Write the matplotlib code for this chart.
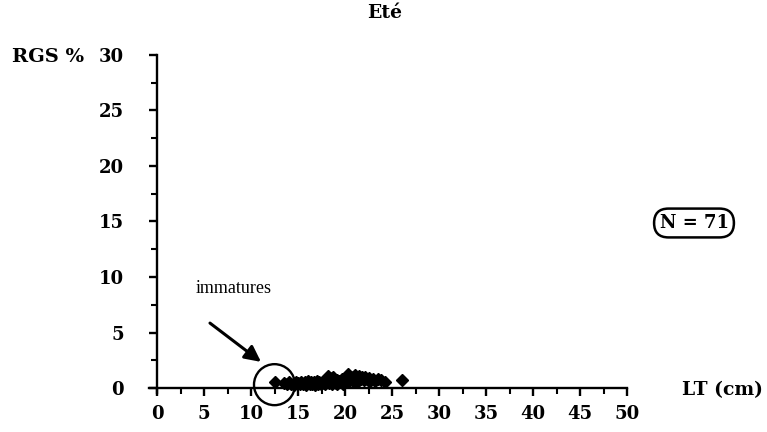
import matplotlib
matplotlib.use("Agg")
import matplotlib.pyplot as plt
from matplotlib.patches import Ellipse

# summer sample: total length (cm) vs gonado-somatic ratio (%)
lt = [12.6, 13.5, 13.8, 14.0, 14.3, 14.6, 14.8, 15.0, 15.2, 15.3,
      15.5, 15.7, 15.8, 16.0, 16.1, 16.3, 16.4, 16.5, 16.7, 16.8,
      16.9, 17.0, 17.1, 17.2, 17.4, 17.5, 17.6, 17.8, 17.9, 18.0,
      18.1, 18.2, 18.3, 18.4, 18.5, 18.6, 18.7, 18.8, 19.0, 19.1,
      19.2, 19.4, 19.5, 19.7, 19.8, 20.0, 20.2, 20.3, 20.5, 20.6,
      20.8, 21.0, 21.1, 21.2, 21.4, 21.5, 21.7, 21.8, 22.0, 22.1,
      22.3, 22.5, 22.6, 22.8, 23.0, 23.2, 23.5, 23.8, 24.3, 26.1,
      21.3]
rgs = [0.55, 0.45, 0.35, 0.50, 0.40, 0.30, 0.55, 0.45, 0.35, 0.50,
       0.40, 0.55, 0.30, 0.45, 0.60, 0.35, 0.50, 0.40, 0.55, 0.30,
       0.45, 0.60, 0.40, 0.50, 0.35, 0.55, 0.45, 0.60, 0.40, 0.70,
       0.50, 1.10, 0.45, 0.90, 0.60, 0.40, 1.00, 0.55, 0.45, 0.70,
       0.35, 0.60, 0.50, 0.80, 0.40, 0.65, 0.55, 1.25, 0.70, 1.00,
       0.60, 0.90, 1.15, 0.75, 0.60, 1.10, 0.85, 0.95, 0.70, 1.00,
       0.80, 0.65, 0.90, 0.75, 0.85, 0.60, 0.80, 0.70, 0.55, 0.70,
       0.50]

x_ticks = [0, 5, 10, 15, 20, 25, 30, 35, 40, 45, 50]
y_ticks = [0, 5, 10, 15, 20, 25, 30]
n_label = "N = 71"

plt.rcParams['font.family'] = ['Liberation Serif', 'DejaVu Serif']
bold_font = 'DejaVu Serif'

fig = plt.figure(figsize=(7.67, 4.32), dpi=100)
# y axis at x=157px, x axis at y=388px
x0, x1 = -0.9, 50
y0, y1 = -0.45, 30
px_x = 9.4
px_y = 11.1
left = (157 + x0 * px_x) / 767
width = (627 - (157 + x0 * px_x)) / 767
bottom = (432 - 388 + y0 * px_y) / 432
height = (388 - 55 - y0 * px_y) / 432
ax = fig.add_axes([left, bottom, width, height])
ax.set_xlim(x0, x1)
ax.set_ylim(y0, y1)

ax.spines['left'].set_position(('data', 0))
ax.spines['bottom'].set_position(('data', 0))
ax.spines['right'].set_visible(False)
ax.spines['top'].set_visible(False)
for s in ['left', 'bottom']:
    ax.spines[s].set_linewidth(1.7)

ax.set_xticks(x_ticks)
ax.set_yticks(y_ticks)
ax.set_xticks([v + 2.5 for v in x_ticks[:-1]], minor=True)
ax.set_yticks([v + 2.5 for v in y_ticks[:-1]], minor=True)
ax.tick_params(axis='both', which='major', direction='out', length=6, width=1.7,
               labelsize=13)
ax.tick_params(axis='both', which='minor', direction='out', length=4, width=1.5)
ax.tick_params(axis='x', pad=6)
ax.tick_params(axis='y', pad=18)
for lab in ax.get_xticklabels() + ax.get_yticklabels():
    lab.set_fontweight('bold')
    lab.set_family(bold_font)

ax.plot(lt, rgs, linestyle='none', marker='D', markersize=6.5, color='black',
        clip_on=False)

# circle around the immature fish
ax.add_patch(Ellipse((12.5, 0.3), 41 / px_x, 41 / px_y, fill=False,
                     edgecolor='black', linewidth=1.7, clip_on=False))
ax.annotate('', xy=(11.3, 2.2), xytext=(5.4, 6.0),
            arrowprops=dict(arrowstyle='-|>', color='black', lw=2.2,
                            mutation_scale=24))
ax.text(8.2, 9.0, 'immatures', fontsize=13, ha='center', va='center')

fig.text(385 / 767, 1 - 13 / 432, 'Eté', fontsize=13.5, fontweight='bold',
         family=bold_font, ha='center', va='center')
fig.text(48 / 767, 1 - 57 / 432, 'RGS %', fontsize=14, fontweight='bold',
         family=bold_font, ha='center', va='center')
fig.text(722 / 767, 1 - 390 / 432, 'LT (cm)', fontsize=13.5, fontweight='bold',
         family=bold_font, ha='center', va='center')
fig.text(694 / 767, 1 - 223 / 432, n_label, fontsize=13, fontweight='bold',
         family=bold_font, ha='center', va='center',
         bbox=dict(boxstyle='round,pad=0.3,rounding_size=0.8', fc='white',
                   ec='black', lw=1.8))

fig.savefig('out.png', dpi=100)
